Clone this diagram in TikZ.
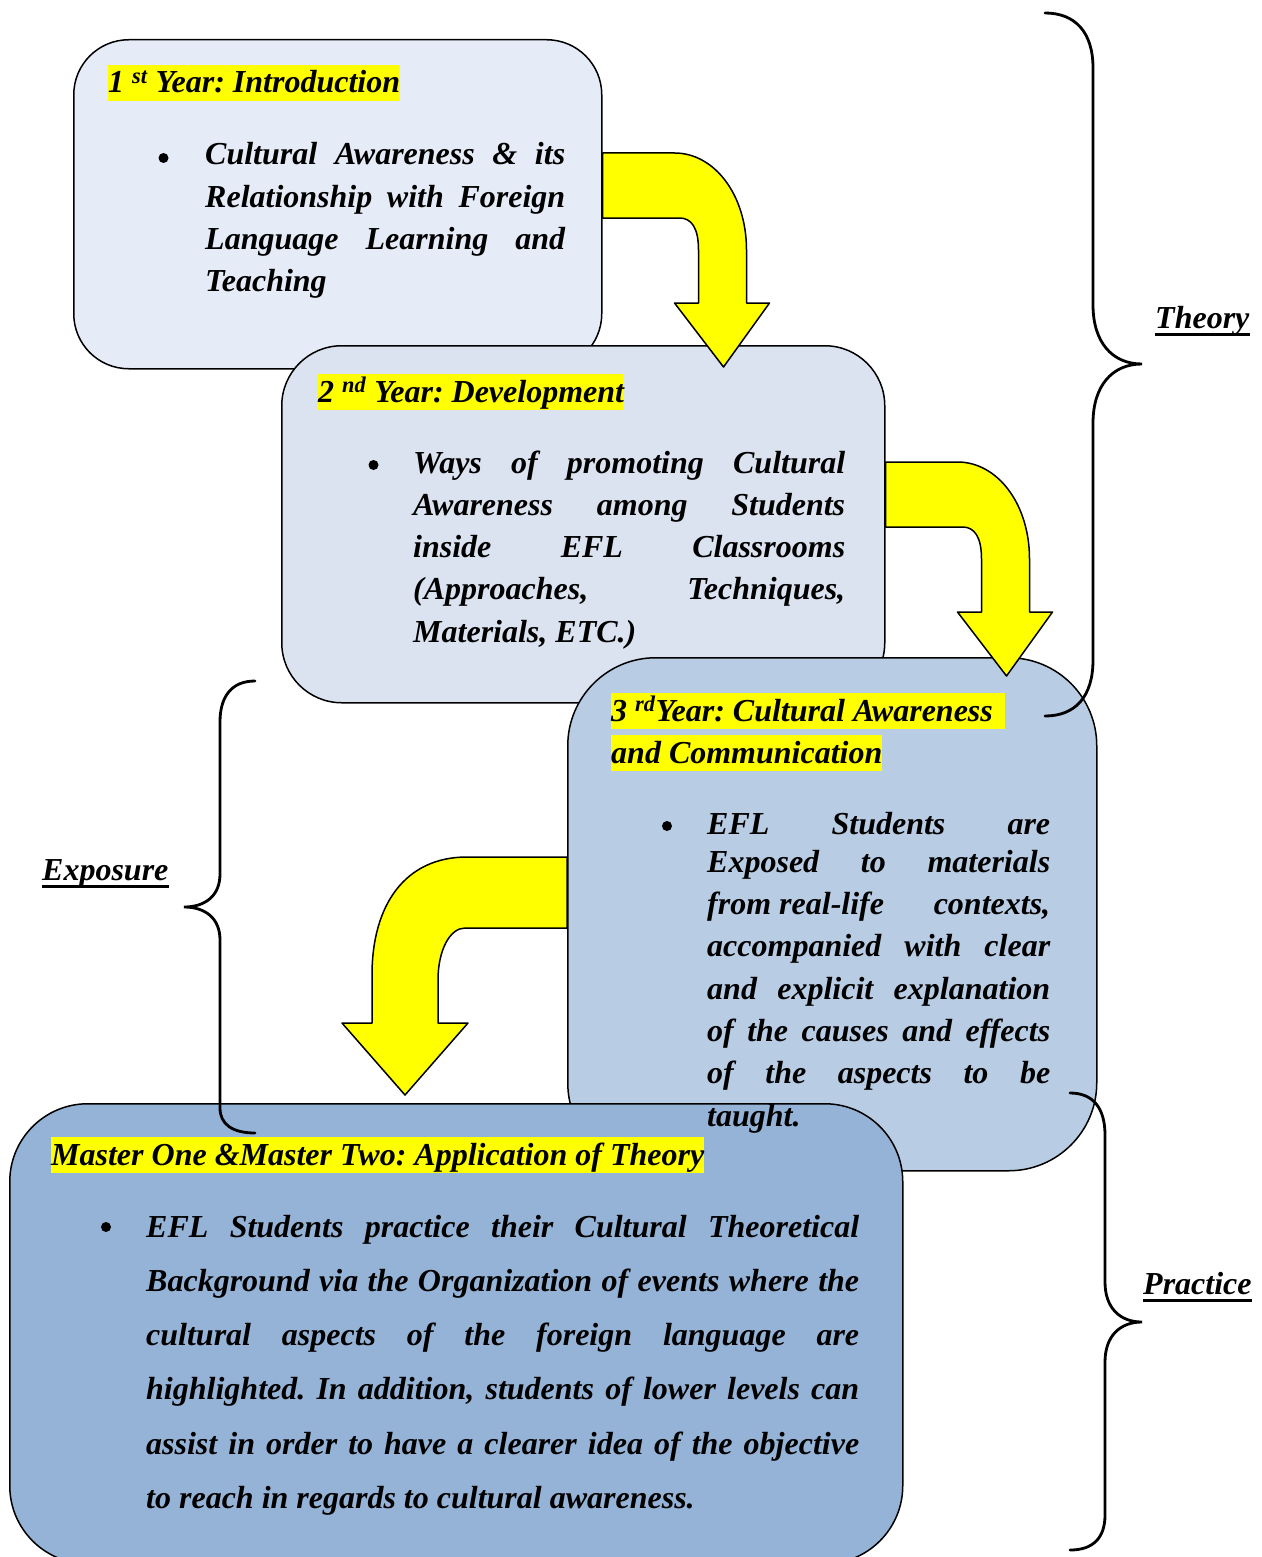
\documentclass[tikz,border=0pt]{standalone}
\usepackage{fontspec}
\setmainfont{Liberation Serif}
\usetikzlibrary{calc}
\frenchspacing

\definecolor{boxA}{RGB}{230,236,247}
\definecolor{boxB}{RGB}{220,227,240}
\definecolor{boxC}{RGB}{184,204,228}
\definecolor{boxD}{RGB}{149,179,215}
\definecolor{hilite}{RGB}{255,255,0}

% justified line of a given width, and a line at natural width
\newcommand\jl[2]{\hbox to #1pt{#2}}
\newcommand\nl[1]{\hbox{#1}}
\newcommand\bodyfont{\fontsize{32}{42.3}\selectfont\bfseries\itshape}
\newcommand\widefont{\fontsize{32}{54.3}\selectfont\bfseries\itshape}

\tikzset{
  stage/.style={draw=black, line width=1.5pt, rounded corners=#1, anchor=north west, inner sep=0pt},
  arrowsty/.style={draw=black, line width=1.5pt, fill=hilite, line join=round},
  bracesty/.style={draw=black, line width=2.8pt, line cap=round},
  hlt/.style={fill=hilite, inner xsep=0pt, inner ysep=0pt, text height=28pt, text depth=8pt,
              anchor=base west, font=\bodyfont},
  bodytxt/.style={inner sep=0pt, anchor=base west, font=\bodyfont},
  dotb/.style={circle, fill=black, inner sep=0pt, minimum size=10pt},
  lbl/.style={inner sep=0pt, anchor=base west, font=\bodyfont},
  uline/.style={draw=black, line width=3pt},
  pics/bentright/.style={code={
    \draw[arrowsty] (0,0) -- (72,0) .. controls (112,0) and (144,42) .. (144,97)
      -- (144,150) -- (167,150) -- (121,214) -- (72,150) -- (96,150) -- (96,97)
      .. controls (96,75) and (89,65) .. (77,65) -- (0,65) -- cycle;}},
  pics/bentleft/.style={code={
    \draw[arrowsty] (0,0) -- (-100,0) .. controls (-162,0) and (-195,48) .. (-195,118)
      -- (-195,166) -- (-225,166) -- (-162,238) -- (-99,166) -- (-129,166) -- (-129,123)
      .. controls (-129,93) and (-117,71) .. (-102,71) -- (0,71) -- cycle;}}
}

\begin{document}
\begin{tikzpicture}[x=1pt,y=-1pt]
\useasboundingbox (0,0) rectangle (1261,1557);
\clip (0,0) rectangle (1261,1557);

% the four stages
\node[stage=55pt, fill=boxA, minimum width=528pt, minimum height=329pt] (b1) at (73,39) {};
\node[stage=60pt, fill=boxB, minimum width=603pt, minimum height=357pt] (b2) at (281,345) {};
\node[stage=88pt, fill=boxC, minimum width=529pt, minimum height=513pt] (b3) at (567,657) {};
\node[stage=78pt, fill=boxD, minimum width=893pt, minimum height=460pt] (b4) at (9,1103) {};

% bent arrows between the stages
\coordinate (a1) at ([yshift=-114pt]b1.north east);
\coordinate (a2) at ([yshift=-117pt]b2.north east);
\coordinate (a3) at ([yshift=-200pt]b3.north west);
\pic (ar1) at (a1) {bentright};
\pic (ar2) at (a2) {bentright};
\pic (ar3) at (a3) {bentleft};

% braces
\draw[bracesty] (1045,13) .. controls (1075,13) and (1093,32) .. (1093,68) -- (1093,305)
  .. controls (1093,342) and (1112,364) .. (1142,364)
  .. controls (1112,364) and (1093,386) .. (1093,423) -- (1093,660)
  .. controls (1093,697) and (1075,716) .. (1045,716);
\draw[bracesty] (1070,1093) .. controls (1093,1093) and (1105,1108) .. (1105,1135) -- (1105,1282)
  .. controls (1105,1308) and (1120,1322) .. (1142,1322)
  .. controls (1120,1322) and (1105,1336) .. (1105,1362) -- (1105,1515)
  .. controls (1105,1538) and (1093,1550) .. (1070,1550);
\draw[bracesty] (255,681) .. controls (232,681) and (220,696) .. (220,722) -- (220,874)
  .. controls (220,896) and (205,907) .. (184,907)
  .. controls (205,907) and (220,918) .. (220,940) -- (220,1108)
  .. controls (220,1124) and (232,1133) .. (255,1133);

% brace labels
\node[lbl] (lth) at (1155,328) {Theory};
\node[lbl] (lpr) at (1143,1294) {Practice};
\node[lbl] (lex) at (42,880) {Exposure};
\foreach \n in {lth,lpr,lex}
  \draw[uline] ([yshift=-6pt]\n.base west) -- ([yshift=-6pt]\n.base east);

% headings
\node[hlt] (h1) at (108,93) {1 \textsuperscript{st} Year: Introduction};
\node[hlt] (h2) at (318,402) {2 \textsuperscript{nd} Year: Development};
\node[hlt] (h3a) at (611,721) {3 \textsuperscript{rd}Year: Cultural Awareness\kern12pt};
\node[hlt] (h3b) at (611,763) {and Communication};
\node[hlt] (h4) at (51,1165) {Master One \&Master Two: Application of Theory};

% bullets
\node[dotb] (d1) at (163.5,158) {};
\node[dotb] (d2) at (373.5,465) {};
\node[dotb] (d3) at (667,826) {};
\node[dotb] (d4) at (106,1227) {};

% body texts
\node[bodytxt] (t1) at (205,165) {\vtop{%
  \jl{360}{Cultural Awareness \& its}
  \jl{360}{Relationship with Foreign}
  \jl{360}{Language Learning and}
  \nl{Teaching}}};

\node[bodytxt] (t2) at (413,473) {\vtop{%
  \jl{432}{Ways of promoting Cultural}
  \jl{432}{Awareness among Students}
  \jl{432}{inside EFL Classrooms}
  \jl{432}{(Approaches, Techniques,}
  \nl{Materials, ETC.)}}};

\node[bodytxt] (t3) at (707,834) {\vtop{%
  \jl{343}{EFL Students are}
  \kern-4pt
  \jl{343}{Exposed to materials}
  \jl{343}{from real-life\hfill contexts,}
  \jl{343}{accompanied with clear}
  \jl{343}{and explicit explanation}
  \jl{343}{of the causes and effects}
  \jl{343}{of the aspects to be}
  \nl{taught.}}};

\node[bodytxt, font=\widefont] (t4) at (146,1237) {\vtop{%
  \jl{713}{EFL Students practice their Cultural Theoretical}
  \jl{713}{Background via the Organization of events where the}
  \jl{713}{cultural aspects of the foreign language are}
  \jl{713}{highlighted. In addition, students of lower levels can}
  \jl{713}{assist in order to have a clearer idea of the objective}
  \nl{to reach in regards to cultural awareness.}}};
\end{tikzpicture}
\end{document}
